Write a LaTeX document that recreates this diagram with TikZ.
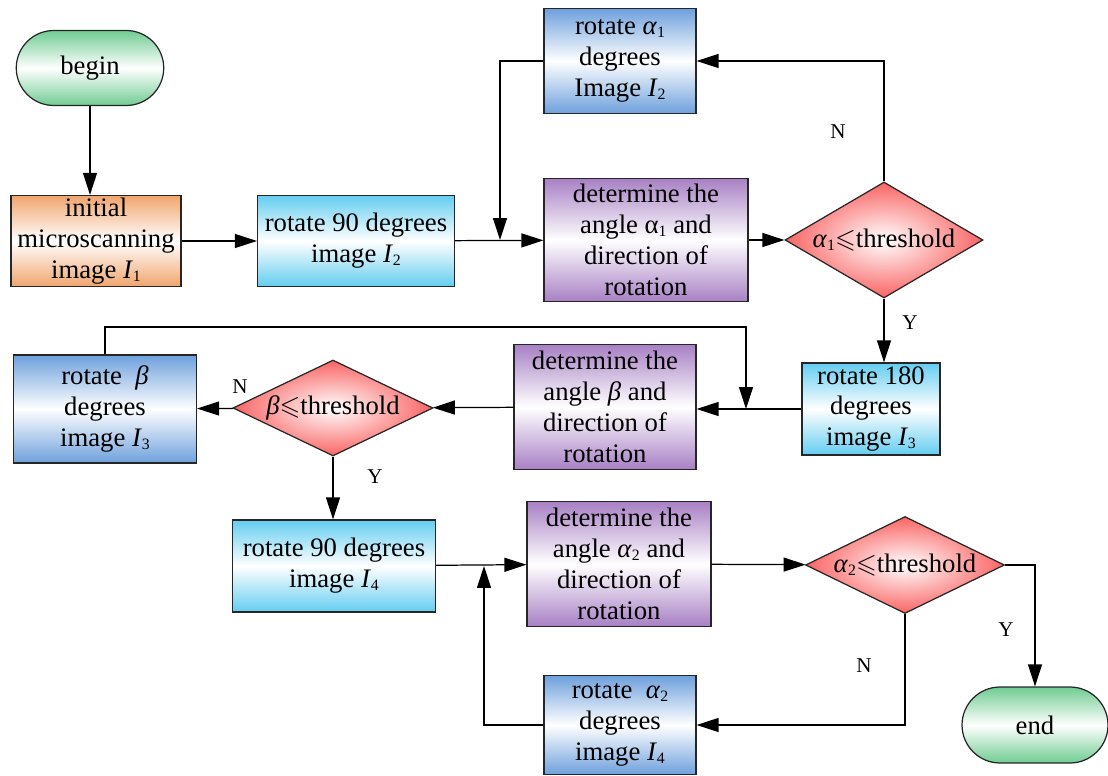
\documentclass[tikz,border=0pt]{standalone}
\usepackage{amsmath,amssymb}
\usepackage{fontspec}
\setmainfont{Liberation Serif}
\usetikzlibrary{arrows.meta,shapes.geometric,shapes.misc,positioning}

\definecolor{termgreen}{RGB}{112,204,146}
\definecolor{initorange}{RGB}{240,165,110}
\definecolor{rotcyan}{RGB}{100,205,240}
\definecolor{rotblue}{RGB}{110,160,220}
\definecolor{detpurple}{RGB}{168,128,196}
\definecolor{decred}{RGB}{250,100,100}

\newcommand{\lo}[1]{\raisebox{-0.25ex}{\small #1}}
\newcommand{\imgI}[1]{\textit{I}\lo{#1}}
\newcommand{\alp}[1]{\textit{α}\lo{#1}}

\begin{document}
\begin{tikzpicture}[
    x=0.02cm, y=-0.02cm,
    font=\fontsize{15.2}{17.6}\selectfont,
    line width=0.7pt,
    >={Triangle[length=4.4mm,width=2.8mm]},
    term/.style={rounded rectangle,draw=black!85,top color=termgreen,
        bottom color=termgreen,middle color=white,minimum width=2.95cm,
        minimum height=1.5cm,inner sep=0pt},
    box/.style={rectangle,draw=black!85,align=center,inner sep=0pt},
    initbox/.style={box,top color=initorange,bottom color=initorange,
        middle color=white},
    cyanbox/.style={box,top color=rotcyan,bottom color=rotcyan,
        middle color=white},
    bluebox/.style={box,top color=rotblue,bottom color=rotblue,
        middle color=white},
    detbox/.style={box,top color=detpurple,bottom color=detpurple,
        middle color=white},
    dec/.style={diamond,draw=black!85,inner color=white,outer color=decred,
        aspect=2,inner sep=0pt},
    yn/.style={font=\fontsize{12}{13}\selectfont},
    ]

    \useasboundingbox (0,0) rectangle (1108,776);

    %first row
    \node[term] (begin) at (90,68) {begin};
    \node[initbox,minimum width=3.4cm,minimum height=1.82cm] (init)
        at (96,241) {initial\\microscanning\\image \imgI{1}};
    \node[cyanbox,minimum width=3.94cm,minimum height=1.82cm] (rotII)
        at (356,241) {rotate 90 degrees\\image \imgI{2}};
    \node[bluebox,minimum width=3.04cm,minimum height=2.1cm] (rotAI)
        at (620,61) {rotate \alp{1}\\degrees\\Image \imgI{2}};
    \node[detbox,minimum width=4.08cm,minimum height=2.46cm] (detAI)
        at (646,240) {determine the\\angle α\lo{1} and\\direction of\\rotation};
    \node[dec,minimum width=3.96cm,minimum height=2.32cm] (decAI)
        at (884,240) {\alp{1}$\leqslant$threshold};

    %second row
    \node[cyanbox,minimum width=2.76cm,minimum height=1.84cm] (rotIII)
        at (871,409) {rotate 180\\degrees\\image \imgI{3}};
    \node[detbox,minimum width=3.64cm,minimum height=2.5cm] (detB)
        at (605,407) {determine the\\angle \textit{β} and\\direction of\\rotation};
    \node[dec,minimum width=4cm,minimum height=1.92cm] (decB)
        at (333,408) {\textit{β}$\leqslant$threshold};
    \node[bluebox,minimum width=3.66cm,minimum height=2.16cm] (rotB)
        at (105,409) {rotate\enspace\textit{β}\\degrees\\image \imgI{3}};

    %third row
    \node[cyanbox,minimum width=4.06cm,minimum height=1.84cm] (rotIV)
        at (334,566) {rotate 90 degrees\\image \imgI{4}};
    \node[detbox,minimum width=3.68cm,minimum height=2.5cm] (detAII)
        at (619,564) {determine the\\angle \alp{2} and\\direction of\\rotation};
    \node[dec,minimum width=3.98cm,minimum height=1.94cm] (decAII)
        at (905,565) {\alp{2}$\leqslant$threshold};
    \node[bluebox,minimum width=3.04cm,minimum height=1.98cm] (rotAII)
        at (620,725) {rotate\enspace\alp{2}\\degrees\\image \imgI{4}};
    \node[term,minimum width=2.92cm,minimum height=1.52cm] (end)
        at (1035,725) {end};

    %joints
    \coordinate (joinAI) at (500,240);
    \coordinate (turnB) at (746,327);
    \coordinate (joinB) at (746,409);
    \coordinate (joinAII) at (484,566);

    %connectors
    \draw[->] (begin.south) -- (begin.south |- init.north);
    \draw[->] (init) -- (rotII);
    \draw[->] (rotII) -- (detAI);
    \draw[->] (rotAI.west) -| (joinAI);
    \draw[->] (detAI) -- (decAI);
    \draw[->] (decAI.north) |- (rotAI.east);
    \draw[->] (decAI.south) -- (decAI.south |- rotIII.north);
    \draw[->] (rotIII.west) -- (rotIII.west -| detB.east);
    \draw[->] (rotB.north) |- (turnB) -- (joinB);
    \draw[->] (detB) -- (decB);
    \draw[->] (decB) -- (rotB);
    \draw[->] (decB.south) -- (decB.south |- rotIV.north);
    \draw[->] (rotIV) -- (detAII);
    \draw[->] (rotAII.west) -| (joinAII);
    \draw[->] (detAII) -- (decAII);
    \draw[->] (decAII.east) -| (end.north);
    \draw[->] (decAII.south) |- (rotAII.east);

    %labels
    \node[yn] (nAI) at (838,132) {N};
    \node[yn] (yAI) at (910,323) {Y};
    \node[yn] (nB) at (240,387) {N};
    \node[yn] (yB) at (375,477) {Y};
    \node[yn] (yAII) at (1006,630) {Y};
    \node[yn] (nAII) at (864,666) {N};

\end{tikzpicture}
\end{document}
